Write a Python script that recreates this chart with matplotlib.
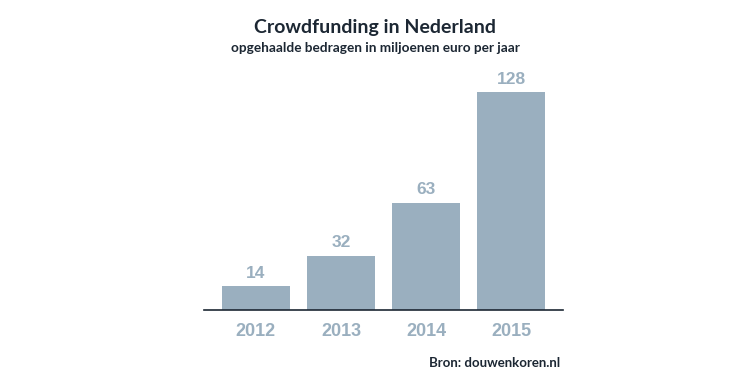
import matplotlib.pyplot as plt

# data
years = ['2012', '2013', '2014', '2015']
amounts = [14, 32, 63, 128]

bar_color = '#9aafbf'
dark = '#1c2733'

fig = plt.figure(figsize=(7.5, 3.84), dpi=100)
ax = fig.add_axes([204 / 750, 1 - 310 / 384, (563 - 204) / 750, 250 / 384])

x = range(len(years))
bars = ax.bar(x, amounts, width=0.8, color=bar_color, edgecolor='none')

# waarden boven de balken
for bar, val in zip(bars, amounts):
    ax.annotate(f'{val}', (bar.get_x() + bar.get_width() / 2, bar.get_height()),
                xytext=(0, 4), textcoords='offset points', ha='center', va='bottom',
                fontsize=12.5, fontweight='bold', color=bar_color, family='Liberation Sans')

ax.set_xlim(-0.61, 3.61)
ax.set_ylim(0, 147)
ax.set_xticks(list(x))
ax.set_xticklabels(years, fontsize=13, fontweight='bold', color=bar_color, family='Liberation Sans')
ax.tick_params(axis='x', length=0, pad=9)
ax.set_yticks([])
for s in ['top', 'left', 'right']:
    ax.spines[s].set_visible(False)
ax.spines['bottom'].set_color(dark)
ax.spines['bottom'].set_linewidth(1.2)

fig.text(0.5, 1 - 27 / 384, 'Crowdfunding in Nederland', ha='center', va='center',
         fontsize=14, fontweight='bold', color=dark, family='Lato')
fig.text(0.5, 1 - 48 / 384, 'opgehaalde bedragen in miljoenen euro per jaar', ha='center', va='center',
         fontsize=9.8, fontweight='bold', color=dark, family='Lato')
fig.text(560 / 750, 1 - 363 / 384, 'Bron: douwenkoren.nl', ha='right', va='center',
         fontsize=9.5, fontweight='bold', color=dark, family='Lato')

fig.savefig('out.png', dpi=100)
